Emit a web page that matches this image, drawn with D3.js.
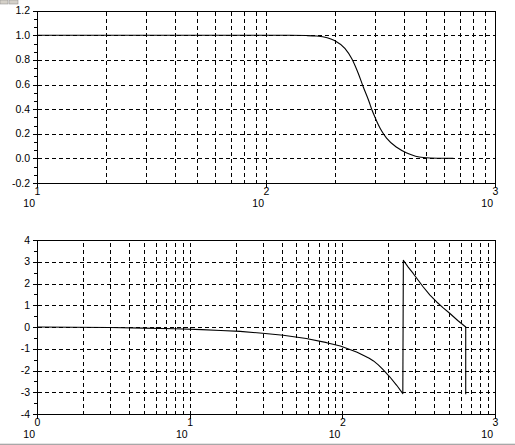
<!DOCTYPE html>
<html>
<head>
<meta charset="utf-8">
<script src="https://cdn.jsdelivr.net/npm/d3@7"></script>
<style>
  body { margin: 0; background: #fff; }
  svg { display: block; }
  text { font-family: "Liberation Sans", Arial, sans-serif; font-size: 10.5px; fill: #000; }
</style>
</head>
<body>
<svg id="chart" width="515" height="445"></svg>
<script>
// magnitude (top plot)
const magFreq  = [10, 100, 127, 150, 166, 185, 200, 221, 237, 253, 266, 282, 290, 299, 309, 320, 336, 372, 412, 450, 486, 560, 658];
const magValue = [1, 1, 1, 0.998, 0.994, 0.98, 0.956, 0.894, 0.81, 0.69, 0.58, 0.46, 0.395, 0.335, 0.275, 0.222, 0.165, 0.09, 0.044, 0.018, 0.007, 0.001, 0];

// phase (bottom plot), radians
const phaseFreq  = [1, 3, 5, 8, 12, 16, 21.4, 30, 41, 58, 79, 97, 112, 125, 137, 150, 160, 172, 185, 205, 227, 249,
                    251, 270, 292, 315, 339, 375, 415, 460, 507, 570, 643, 643];
const phaseValue = [0, -0.02, -0.05, -0.08, -0.12, -0.16, -0.2, -0.29, -0.38, -0.53, -0.72, -0.87, -1.03, -1.16, -1.30, -1.44, -1.56, -1.74, -1.96, -2.30, -2.68, -3.06,
                    3.07, 2.75, 2.45, 2.14, 1.84, 1.47, 1.15, 0.87, 0.62, 0.30, 0.0, -3.09];

// tick labels
const magTicks   = [-0.2, 0, 0.2, 0.4, 0.6, 0.8, 1.0, 1.2];
const phaseTicks = [-4, -3, -2, -1, 0, 1, 2, 3, 4];
const topDecades = [1, 2, 3];
const botDecades = [0, 1, 2, 3];

const svg = d3.select("#chart");

// petits bouts gris de la fenetre
svg.append("rect").attr("x", 0).attr("y", 0).attr("width", 8).attr("height", 4).attr("fill", "#d4d0c8").attr("stroke", "#888").attr("stroke-width", 0.5);
svg.append("rect").attr("x", 9).attr("y", 0).attr("width", 9).attr("height", 4).attr("fill", "#d4d0c8").attr("stroke", "#888").attr("stroke-width", 0.5);
svg.append("rect").attr("x", 0).attr("y", 443).attr("width", 515).attr("height", 1).attr("fill", "#e4e4e4");
svg.append("rect").attr("x", 0).attr("y", 444).attr("width", 515).attr("height", 1).attr("fill", "#a8a8a8");

function drawPlot(opt) {
  const x = d3.scaleLog().domain(opt.xDomain).range([37, 495]);
  const y = d3.scaleLinear().domain(opt.yDomain).range(opt.yRange);
  const g = svg.append("g");
  const px = v => Math.round(x(v)) + 0.5;
  const py = v => Math.round(y(v)) + 0.5;
  const y0 = py(opt.yDomain[0]), y1 = py(opt.yDomain[1]);

  // grille verticale (log)
  const vgrid = [];
  for (let e = Math.log10(opt.xDomain[0]); e < Math.log10(opt.xDomain[1]); e++) {
    for (let m = 1; m <= 10; m++) {
      const f = m * Math.pow(10, e);
      if (f > opt.xDomain[0] && f < opt.xDomain[1]) vgrid.push(f);
    }
  }
  g.selectAll(".vg").data(vgrid).enter().append("line")
    .attr("x1", d => px(d)).attr("x2", d => px(d))
    .attr("y1", y0).attr("y2", y1)
    .attr("stroke", "#000").attr("stroke-dasharray", "4,3")
    .attr("shape-rendering", "crispEdges");

  // grille horizontale
  g.selectAll(".hg").data(opt.ticks.slice(1, -1)).enter().append("line")
    .attr("x1", px(opt.xDomain[0])).attr("x2", px(opt.xDomain[1]))
    .attr("y1", d => py(d)).attr("y2", d => py(d))
    .attr("stroke", "#000").attr("stroke-dasharray", "4,3")
    .attr("shape-rendering", "crispEdges");

  // cadre
  g.append("rect")
    .attr("x", px(opt.xDomain[0])).attr("y", y1)
    .attr("width", px(opt.xDomain[1]) - px(opt.xDomain[0]))
    .attr("height", y0 - y1)
    .attr("fill", "none").attr("stroke", "#000")
    .attr("shape-rendering", "crispEdges");

  // ticks y majeurs + mineurs
  const step = opt.ticks[1] - opt.ticks[0];
  const minors = [];
  for (let i = 0; i < opt.ticks.length - 1; i++) {
    for (let k = 1; k < opt.minorDiv; k++) minors.push(opt.ticks[i] + step * k / opt.minorDiv);
  }
  g.selectAll(".ymaj").data(opt.ticks).enter().append("line")
    .attr("x1", 33).attr("x2", 37).attr("y1", d => py(d)).attr("y2", d => py(d))
    .attr("stroke", "#000").attr("shape-rendering", "crispEdges");
  g.selectAll(".ymin").data(minors).enter().append("line")
    .attr("x1", 34).attr("x2", 37).attr("y1", d => py(d)).attr("y2", d => py(d))
    .attr("stroke", "#000").attr("shape-rendering", "crispEdges");
  g.selectAll(".ylab").data(opt.ticks).enter().append("text")
    .attr("x", 30).attr("y", d => y(d) + 3.5)
    .attr("text-anchor", "end")
    .text(opt.fmt);

  // labels x en puissances de 10
  const dec = g.selectAll(".xlab").data(opt.decades).enter().append("g");
  dec.append("line")
    .attr("x1", d => px(Math.pow(10, d))).attr("x2", d => px(Math.pow(10, d)))
    .attr("y1", y0).attr("y2", y0 + 4)
    .attr("stroke", "#000").attr("shape-rendering", "crispEdges");
  dec.append("text")
    .attr("x", d => x(Math.pow(10, d)) + 0.5).attr("y", y0 + 11)
    .attr("text-anchor", "middle")
    .text(d => d);
  dec.append("text")
    .attr("x", d => x(Math.pow(10, d)) - 2).attr("y", y0 + 23)
    .attr("text-anchor", "end")
    .text("10");

  // courbe
  const line = d3.line()
    .x((d, i) => x(opt.freq[i]))
    .y((d, i) => y(opt.values[i]))
    .curve(opt.curve);
  g.append("path")
    .datum(opt.values)
    .attr("d", line)
    .attr("fill", "none")
    .attr("stroke", "#000")
    .attr("stroke-width", 1.1)
    .attr("stroke-linejoin", "round");
}

drawPlot({
  xDomain: [10, 1000], yDomain: [-0.2, 1.2], yRange: [183, 10.7],
  ticks: magTicks, minorDiv: 3, fmt: d => d.toFixed(1),
  decades: topDecades, freq: magFreq, values: magValue, curve: d3.curveMonotoneX
});

drawPlot({
  xDomain: [1, 1000], yDomain: [-4, 4], yRange: [414, 240],
  ticks: phaseTicks, minorDiv: 2, fmt: d => d,
  decades: botDecades, freq: phaseFreq, values: phaseValue, curve: d3.curveLinear
});
</script>
</body>
</html>
